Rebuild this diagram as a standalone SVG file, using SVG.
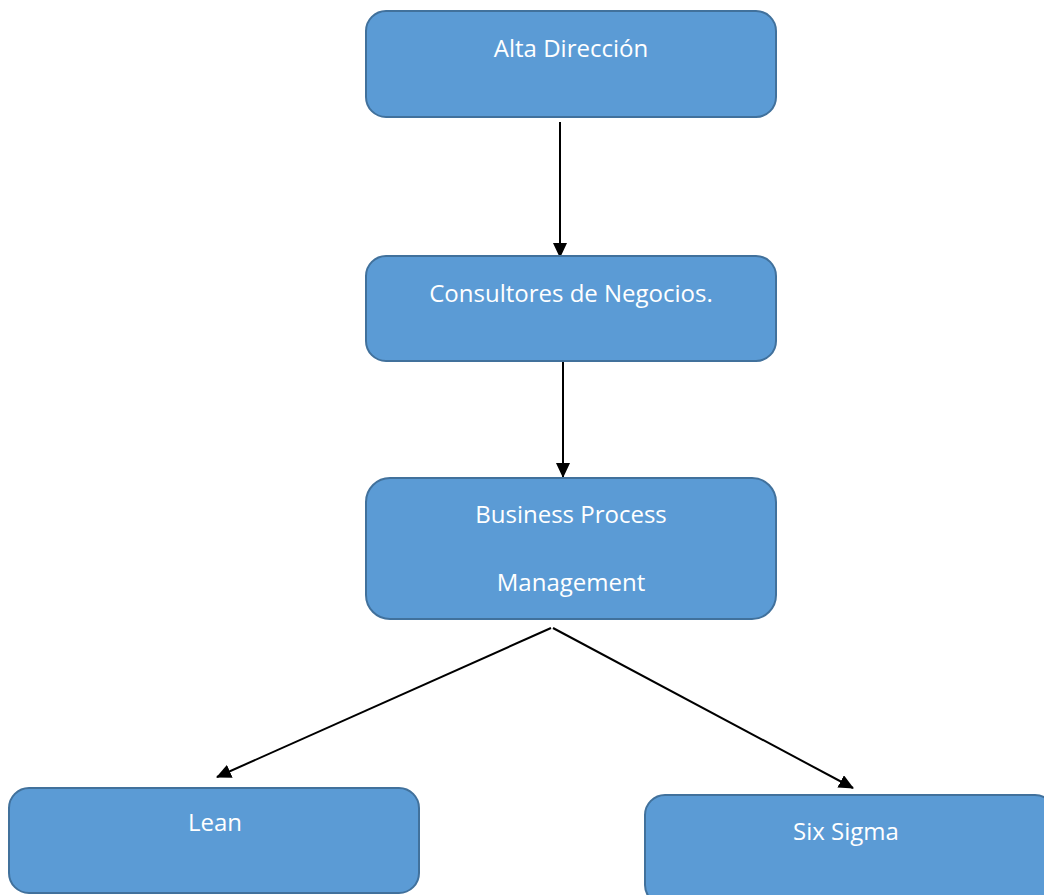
<svg xmlns="http://www.w3.org/2000/svg" width="1044" height="895" viewBox="0 0 1044 895">
<style>
.box{fill:#5B9BD5;stroke:#41719C;stroke-width:2}
.lbl{fill:#FFFFFF;font-family:"Open Sans","Noto Sans",sans-serif;font-size:24px;text-anchor:middle}
.edge{stroke:#000;stroke-width:2;fill:none;marker-end:url(#ah)}
</style>
<defs>
<marker id="ah" markerWidth="15" markerHeight="14" refX="14" refY="7" orient="auto" markerUnits="userSpaceOnUse">
<path d="M0,0 L15,7 L0,14 Z" fill="#000"/>
</marker>
</defs>
<g id="connectors">
<line class="edge" x1="560" y1="122" x2="560" y2="257"/>
<line class="edge" x1="563" y1="362" x2="563" y2="477"/>
<line class="edge" x1="551" y1="628" x2="217" y2="777"/>
<line class="edge" x1="553" y1="628" x2="853" y2="788"/>
</g>
<g id="alta">
<rect class="box" x="366" y="11" width="410" height="106" rx="20"/>
<text class="lbl" x="571" y="57">Alta Dirección</text>
</g>
<g id="consultores">
<rect class="box" x="366" y="256" width="410" height="105" rx="20"/>
<text class="lbl" x="571" y="302">Consultores de Negocios.</text>
</g>
<g id="bpm">
<rect class="box" x="366" y="478" width="410" height="141" rx="24"/>
<text class="lbl" x="571" y="523">Business Process</text>
<text class="lbl" x="571" y="591">Management</text>
</g>
<g id="lean">
<rect class="box" x="9" y="788" width="410" height="105" rx="20"/>
<text class="lbl" x="215" y="831">Lean</text>
</g>
<g id="sixsigma">
<rect class="box" x="645" y="795" width="410" height="110" rx="20"/>
<text class="lbl" x="846" y="840">Six Sigma</text>
</g>
</svg>
